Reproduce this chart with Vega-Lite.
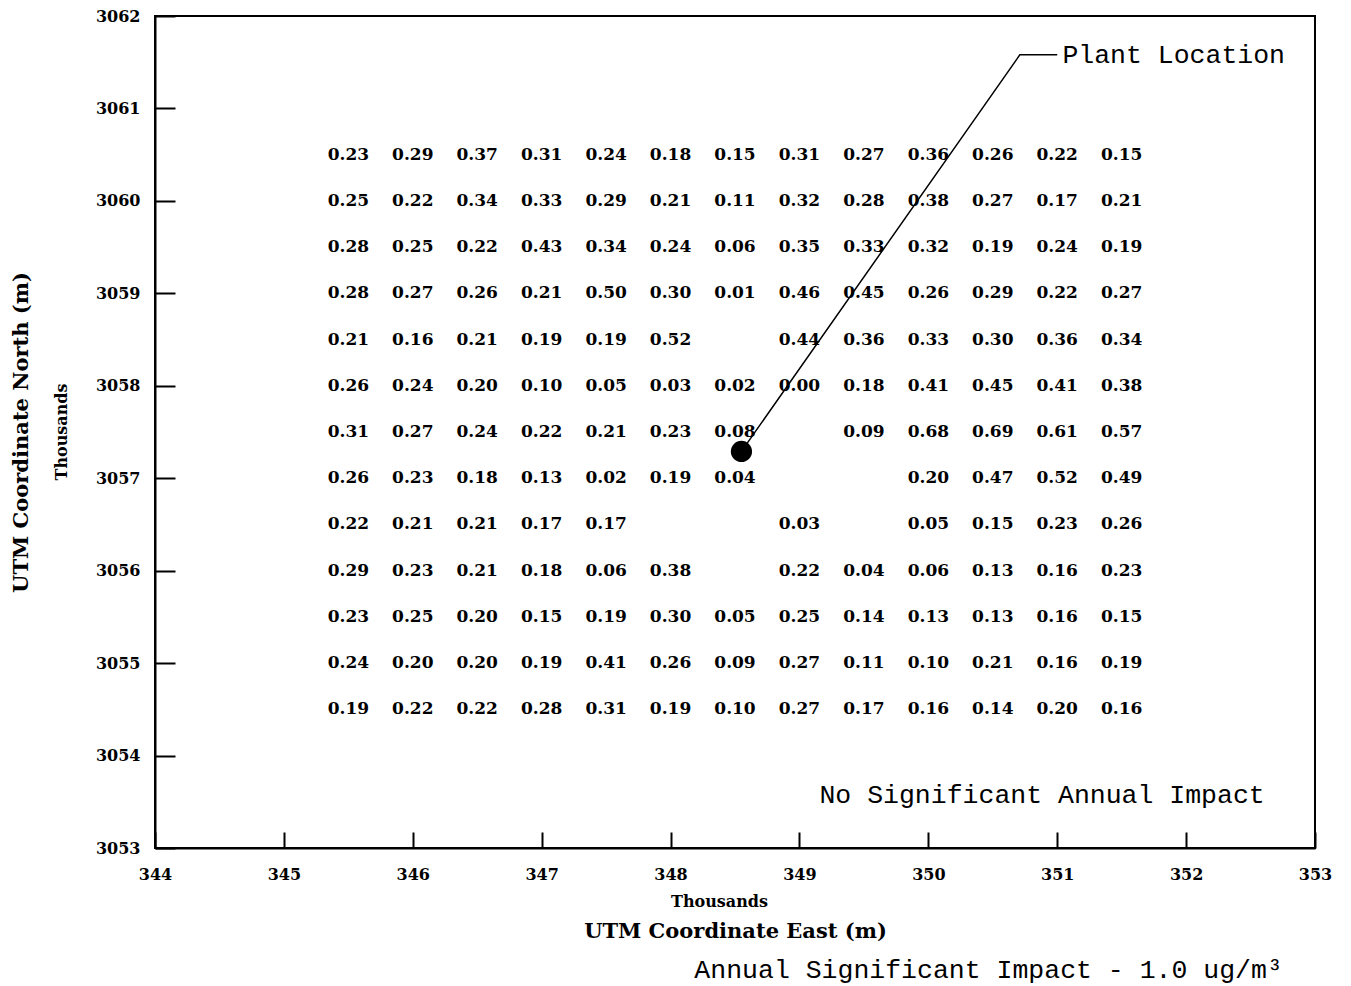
{
  "$schema": "https://vega.github.io/schema/vega-lite/v6.json",
  "width": 1160,
  "height": 832,
  "autosize": "none",
  "padding": {"left": 155, "top": 16, "right": 36, "bottom": 138},
  "background": "white",
  "config": {
    "view": {"stroke": "black", "strokeWidth": 2},
    "axis": {"grid": false, "domainColor": "black", "domainWidth": 2, "tickColor": "black", "tickWidth": 2, "labelColor": "black", "titleColor": "black", "labelFont": "DejaVu Serif", "labelFontWeight": "bold", "labelFontSize": 16, "titleFont": "DejaVu Serif", "titleFontWeight": "bold", "titleFontSize": 21, "labelFlush": false, "labelBound": false, "labelOverlap": false}
  },
  "datasets": {
    "grid": [
      {"x": 345.5, "y": 3060.5, "v": 0.23}, {"x": 346, "y": 3060.5, "v": 0.29}, {"x": 346.5, "y": 3060.5, "v": 0.37}, {"x": 347, "y": 3060.5, "v": 0.31}, {"x": 347.5, "y": 3060.5, "v": 0.24}, {"x": 348, "y": 3060.5, "v": 0.18}, {"x": 348.5, "y": 3060.5, "v": 0.15}, {"x": 349, "y": 3060.5, "v": 0.31}, {"x": 349.5, "y": 3060.5, "v": 0.27}, {"x": 350, "y": 3060.5, "v": 0.36}, {"x": 350.5, "y": 3060.5, "v": 0.26}, {"x": 351, "y": 3060.5, "v": 0.22}, {"x": 351.5, "y": 3060.5, "v": 0.15},
      {"x": 345.5, "y": 3060, "v": 0.25}, {"x": 346, "y": 3060, "v": 0.22}, {"x": 346.5, "y": 3060, "v": 0.34}, {"x": 347, "y": 3060, "v": 0.33}, {"x": 347.5, "y": 3060, "v": 0.29}, {"x": 348, "y": 3060, "v": 0.21}, {"x": 348.5, "y": 3060, "v": 0.11}, {"x": 349, "y": 3060, "v": 0.32}, {"x": 349.5, "y": 3060, "v": 0.28}, {"x": 350, "y": 3060, "v": 0.38}, {"x": 350.5, "y": 3060, "v": 0.27}, {"x": 351, "y": 3060, "v": 0.17}, {"x": 351.5, "y": 3060, "v": 0.21},
      {"x": 345.5, "y": 3059.5, "v": 0.28}, {"x": 346, "y": 3059.5, "v": 0.25}, {"x": 346.5, "y": 3059.5, "v": 0.22}, {"x": 347, "y": 3059.5, "v": 0.43}, {"x": 347.5, "y": 3059.5, "v": 0.34}, {"x": 348, "y": 3059.5, "v": 0.24}, {"x": 348.5, "y": 3059.5, "v": 0.06}, {"x": 349, "y": 3059.5, "v": 0.35}, {"x": 349.5, "y": 3059.5, "v": 0.33}, {"x": 350, "y": 3059.5, "v": 0.32}, {"x": 350.5, "y": 3059.5, "v": 0.19}, {"x": 351, "y": 3059.5, "v": 0.24}, {"x": 351.5, "y": 3059.5, "v": 0.19},
      {"x": 345.5, "y": 3059, "v": 0.28}, {"x": 346, "y": 3059, "v": 0.27}, {"x": 346.5, "y": 3059, "v": 0.26}, {"x": 347, "y": 3059, "v": 0.21}, {"x": 347.5, "y": 3059, "v": 0.50}, {"x": 348, "y": 3059, "v": 0.30}, {"x": 348.5, "y": 3059, "v": 0.01}, {"x": 349, "y": 3059, "v": 0.46}, {"x": 349.5, "y": 3059, "v": 0.45}, {"x": 350, "y": 3059, "v": 0.26}, {"x": 350.5, "y": 3059, "v": 0.29}, {"x": 351, "y": 3059, "v": 0.22}, {"x": 351.5, "y": 3059, "v": 0.27},
      {"x": 345.5, "y": 3058.5, "v": 0.21}, {"x": 346, "y": 3058.5, "v": 0.16}, {"x": 346.5, "y": 3058.5, "v": 0.21}, {"x": 347, "y": 3058.5, "v": 0.19}, {"x": 347.5, "y": 3058.5, "v": 0.19}, {"x": 348, "y": 3058.5, "v": 0.52}, {"x": 349, "y": 3058.5, "v": 0.44}, {"x": 349.5, "y": 3058.5, "v": 0.36}, {"x": 350, "y": 3058.5, "v": 0.33}, {"x": 350.5, "y": 3058.5, "v": 0.30}, {"x": 351, "y": 3058.5, "v": 0.36}, {"x": 351.5, "y": 3058.5, "v": 0.34},
      {"x": 345.5, "y": 3058, "v": 0.26}, {"x": 346, "y": 3058, "v": 0.24}, {"x": 346.5, "y": 3058, "v": 0.20}, {"x": 347, "y": 3058, "v": 0.10}, {"x": 347.5, "y": 3058, "v": 0.05}, {"x": 348, "y": 3058, "v": 0.03}, {"x": 348.5, "y": 3058, "v": 0.02}, {"x": 349, "y": 3058, "v": 0.00}, {"x": 349.5, "y": 3058, "v": 0.18}, {"x": 350, "y": 3058, "v": 0.41}, {"x": 350.5, "y": 3058, "v": 0.45}, {"x": 351, "y": 3058, "v": 0.41}, {"x": 351.5, "y": 3058, "v": 0.38},
      {"x": 345.5, "y": 3057.5, "v": 0.31}, {"x": 346, "y": 3057.5, "v": 0.27}, {"x": 346.5, "y": 3057.5, "v": 0.24}, {"x": 347, "y": 3057.5, "v": 0.22}, {"x": 347.5, "y": 3057.5, "v": 0.21}, {"x": 348, "y": 3057.5, "v": 0.23}, {"x": 348.5, "y": 3057.5, "v": 0.08}, {"x": 349.5, "y": 3057.5, "v": 0.09}, {"x": 350, "y": 3057.5, "v": 0.68}, {"x": 350.5, "y": 3057.5, "v": 0.69}, {"x": 351, "y": 3057.5, "v": 0.61}, {"x": 351.5, "y": 3057.5, "v": 0.57},
      {"x": 345.5, "y": 3057, "v": 0.26}, {"x": 346, "y": 3057, "v": 0.23}, {"x": 346.5, "y": 3057, "v": 0.18}, {"x": 347, "y": 3057, "v": 0.13}, {"x": 347.5, "y": 3057, "v": 0.02}, {"x": 348, "y": 3057, "v": 0.19}, {"x": 348.5, "y": 3057, "v": 0.04}, {"x": 350, "y": 3057, "v": 0.20}, {"x": 350.5, "y": 3057, "v": 0.47}, {"x": 351, "y": 3057, "v": 0.52}, {"x": 351.5, "y": 3057, "v": 0.49},
      {"x": 345.5, "y": 3056.5, "v": 0.22}, {"x": 346, "y": 3056.5, "v": 0.21}, {"x": 346.5, "y": 3056.5, "v": 0.21}, {"x": 347, "y": 3056.5, "v": 0.17}, {"x": 347.5, "y": 3056.5, "v": 0.17}, {"x": 349, "y": 3056.5, "v": 0.03}, {"x": 350, "y": 3056.5, "v": 0.05}, {"x": 350.5, "y": 3056.5, "v": 0.15}, {"x": 351, "y": 3056.5, "v": 0.23}, {"x": 351.5, "y": 3056.5, "v": 0.26},
      {"x": 345.5, "y": 3056, "v": 0.29}, {"x": 346, "y": 3056, "v": 0.23}, {"x": 346.5, "y": 3056, "v": 0.21}, {"x": 347, "y": 3056, "v": 0.18}, {"x": 347.5, "y": 3056, "v": 0.06}, {"x": 348, "y": 3056, "v": 0.38}, {"x": 349, "y": 3056, "v": 0.22}, {"x": 349.5, "y": 3056, "v": 0.04}, {"x": 350, "y": 3056, "v": 0.06}, {"x": 350.5, "y": 3056, "v": 0.13}, {"x": 351, "y": 3056, "v": 0.16}, {"x": 351.5, "y": 3056, "v": 0.23},
      {"x": 345.5, "y": 3055.5, "v": 0.23}, {"x": 346, "y": 3055.5, "v": 0.25}, {"x": 346.5, "y": 3055.5, "v": 0.20}, {"x": 347, "y": 3055.5, "v": 0.15}, {"x": 347.5, "y": 3055.5, "v": 0.19}, {"x": 348, "y": 3055.5, "v": 0.30}, {"x": 348.5, "y": 3055.5, "v": 0.05}, {"x": 349, "y": 3055.5, "v": 0.25}, {"x": 349.5, "y": 3055.5, "v": 0.14}, {"x": 350, "y": 3055.5, "v": 0.13}, {"x": 350.5, "y": 3055.5, "v": 0.13}, {"x": 351, "y": 3055.5, "v": 0.16}, {"x": 351.5, "y": 3055.5, "v": 0.15},
      {"x": 345.5, "y": 3055, "v": 0.24}, {"x": 346, "y": 3055, "v": 0.20}, {"x": 346.5, "y": 3055, "v": 0.20}, {"x": 347, "y": 3055, "v": 0.19}, {"x": 347.5, "y": 3055, "v": 0.41}, {"x": 348, "y": 3055, "v": 0.26}, {"x": 348.5, "y": 3055, "v": 0.09}, {"x": 349, "y": 3055, "v": 0.27}, {"x": 349.5, "y": 3055, "v": 0.11}, {"x": 350, "y": 3055, "v": 0.10}, {"x": 350.5, "y": 3055, "v": 0.21}, {"x": 351, "y": 3055, "v": 0.16}, {"x": 351.5, "y": 3055, "v": 0.19},
      {"x": 345.5, "y": 3054.5, "v": 0.19}, {"x": 346, "y": 3054.5, "v": 0.22}, {"x": 346.5, "y": 3054.5, "v": 0.22}, {"x": 347, "y": 3054.5, "v": 0.28}, {"x": 347.5, "y": 3054.5, "v": 0.31}, {"x": 348, "y": 3054.5, "v": 0.19}, {"x": 348.5, "y": 3054.5, "v": 0.10}, {"x": 349, "y": 3054.5, "v": 0.27}, {"x": 349.5, "y": 3054.5, "v": 0.17}, {"x": 350, "y": 3054.5, "v": 0.16}, {"x": 350.5, "y": 3054.5, "v": 0.14}, {"x": 351, "y": 3054.5, "v": 0.20}, {"x": 351.5, "y": 3054.5, "v": 0.16}
    ],
    "plant": [{"x": 348.55, "y": 3057.29}],
    "leader": [{"x": 348.55, "y": 3057.29, "o": 1}, {"x": 350.71, "y": 3061.58, "o": 2}, {"x": 351.0, "y": 3061.58, "o": 3}],
    "noteLeft": [{"x": 351.04, "y": 3061.58, "t": "Plant Location"}],
    "noteRight": [{"x": 352.61, "y": 3053.57, "t": "No Significant Annual Impact"}, {"x": 352.75, "y": 3051.68, "t": "Annual Significant Impact - 1.0 ug/m³"}],
    "thouX": [{"x": 348.38, "y": 3052.42, "t": "Thousands"}],
    "thouY": [{"x": 343.28, "y": 3057.5, "t": "Thousands"}]
  },
  "encoding": {
    "x": {"field": "x", "type": "quantitative", "scale": {"domain": [344, 353], "nice": false, "zero": false},
      "axis": {"values": [344, 345, 346, 347, 348, 349, 350, 351, 352, 353], "format": "d", "tickSize": -16, "labelPadding": 34, "title": "UTM Coordinate East (m)", "titlePadding": 38}},
    "y": {"field": "y", "type": "quantitative", "scale": {"domain": [3053, 3062], "nice": false, "zero": false},
      "axis": {"values": [3053, 3054, 3055, 3056, 3057, 3058, 3059, 3060, 3061, 3062], "format": "d", "tickSize": -20, "labelPadding": 35, "title": "UTM Coordinate North (m)", "titlePadding": 64}}
  },
  "layer": [
    {"data": {"name": "grid"}, "mark": {"type": "text", "font": "DejaVu Serif", "fontWeight": "bold", "fontSize": 17, "color": "black", "align": "center", "baseline": "middle"},
      "encoding": {"text": {"field": "v", "type": "quantitative", "format": ".2f"}}},
    {"data": {"name": "leader"}, "mark": {"type": "line", "color": "black", "strokeWidth": 1.5, "clip": false},
      "encoding": {"order": {"field": "o", "type": "quantitative"}}},
    {"data": {"name": "plant"}, "mark": {"type": "circle", "size": 450, "color": "black", "opacity": 1}, "encoding": {}},
    {"data": {"name": "noteLeft"}, "mark": {"type": "text", "font": "Liberation Mono", "fontSize": 26.5, "color": "black", "align": "left", "baseline": "middle"},
      "encoding": {"text": {"field": "t"}}},
    {"data": {"name": "noteRight"}, "mark": {"type": "text", "font": "Liberation Mono", "fontSize": 26.5, "color": "black", "align": "right", "baseline": "middle"},
      "encoding": {"text": {"field": "t"}}},
    {"data": {"name": "thouX"}, "mark": {"type": "text", "font": "DejaVu Serif", "fontWeight": "bold", "fontSize": 16, "color": "black", "align": "center", "baseline": "middle"},
      "encoding": {"text": {"field": "t"}}},
    {"data": {"name": "thouY"}, "mark": {"type": "text", "font": "DejaVu Serif", "fontWeight": "bold", "fontSize": 16, "color": "black", "align": "center", "baseline": "middle", "angle": 270},
      "encoding": {"text": {"field": "t"}}}
  ]
}
